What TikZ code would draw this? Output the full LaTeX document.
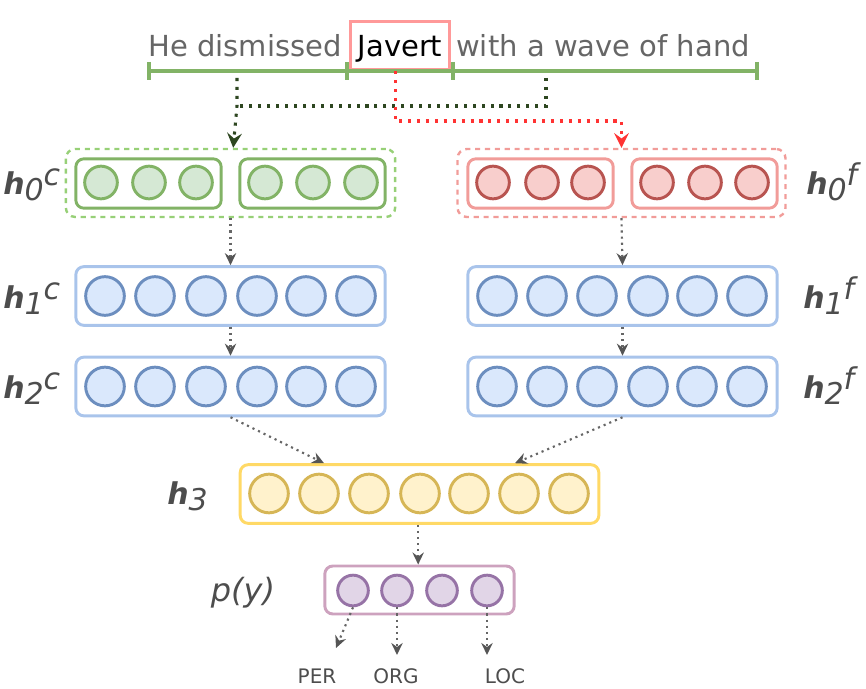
\documentclass[tikz,border=0pt]{standalone}
\usepackage{fontspec}
\setmainfont{DejaVu Sans}
\usetikzlibrary{arrows.meta}
\definecolor{gfill}{HTML}{D5E8D4}\definecolor{gline}{HTML}{82B366}\definecolor{gdash}{HTML}{97D077}
\definecolor{rfill}{HTML}{F8CECC}\definecolor{rline}{HTML}{B85450}\definecolor{rbox}{HTML}{F19C99}
\definecolor{bfill}{HTML}{DAE8FC}\definecolor{bline}{HTML}{6C8EBF}\definecolor{bbox}{HTML}{A9C4EB}
\definecolor{yfill}{HTML}{FFF2CC}\definecolor{yline}{HTML}{D6B656}\definecolor{ybox}{HTML}{FFD966}
\definecolor{pfill}{HTML}{E1D5E7}\definecolor{pline}{HTML}{9673A6}\definecolor{pbox}{HTML}{CDA2BE}
\definecolor{javbox}{HTML}{FF9999}\definecolor{dgreen}{HTML}{2D4620}\definecolor{redarr}{HTML}{FF3333}
\definecolor{dotgray}{HTML}{666666}\definecolor{arrgray}{HTML}{555555}\definecolor{labgray}{HTML}{4D4D4D}
\definecolor{sentgray}{HTML}{666666}
\newcommand{\hlab}[2]{\textbf{\textit{h}}\raisebox{-0.23em}{\textit{#1}}\raisebox{0.28em}{\textit{#2}}}
\begin{document}
\begin{tikzpicture}[x=0.75pt,y=-0.75pt,
  box/.style={draw, rounded corners=6pt, line width=2.2pt, inner sep=0pt},
  dbox/.style={draw, rounded corners=7pt, line width=1.8pt, dash pattern=on 3.8pt off 3.6pt, inner sep=0pt, minimum width=#1, minimum height=51pt},
  circ/.style={circle, draw, line width=2.2pt, inner sep=0pt},
  gc/.style={circ, fill=gfill, draw=gline, minimum size=24.5pt},
  rc/.style={circ, fill=rfill, draw=rline, minimum size=24.5pt},
  bc/.style={circ, fill=bfill, draw=bline, minimum size=29pt},
  yc/.style={circ, fill=yfill, draw=yline, minimum size=29pt},
  pc/.style={circ, fill=pfill, draw=pline, minimum size=23pt},
  lab/.style={text=labgray, font=\fontsize{22.5}{27}\selectfont, inner sep=0pt},
  sent/.style={text=sentgray, font=\fontsize{21.75}{26}\selectfont, inner sep=0pt},
  cls/.style={text=labgray, font=\fontsize{15}{18}\selectfont, inner sep=0pt},
  garr/.style={draw=dotgray, line width=1.6pt, dash pattern=on 1.6pt off 3pt,
    -{Stealth[length=9pt,width=8.5pt,inset=3pt,color=arrgray]}},
  toparr/.style={draw=#1, line width=2.3pt, dash pattern=on 2.3pt off 4.4pt},
]
\useasboundingbox (0,0) rectangle (866,688);

% sentence
\node[draw=javbox, line width=2.4pt, minimum width=74pt, minimum height=36pt, inner sep=0pt] (jav) at (400,45.5) {};
\node[sent, anchor=base, text=black] (javt) at (400,57) {Javert};
\node[sent, anchor=base east] (s1) at (342,57) {He dismissed};
\node[sent, anchor=base west] (s2) at (456,57) {with a wave of hand};
\draw[gline, line width=2.6pt] (149,71) -- (757,71);
\foreach \x in {149,347,453,757} \draw[gline, line width=2.6pt] (\x,62) -- (\x,80);

% h0c
\node[dbox=247pt, draw=gdash] (h0c) at (230.5,183) {};
\node[box, draw=gline, minimum width=109pt, minimum height=37pt] (h0cL) at (148.5,183.5) {};
\node[box, draw=gline, minimum width=109pt, minimum height=37pt] (h0cR) at (312.5,183.5) {};
\foreach \i/\x in {1/101,2/149,3/196,4/265,5/313,6/361} \node[gc] (g\i) at (\x,182.5) {};
% h0f
\node[dbox=246pt, draw=rbox] (h0f) at (621.5,183) {};
\node[box, draw=rbox, minimum width=109pt, minimum height=37pt] (h0fL) at (540.5,183.5) {};
\node[box, draw=rbox, minimum width=109pt, minimum height=37pt] (h0fR) at (704.5,183.5) {};
\foreach \i/\x in {1/493,2/542,3/588,4/657,5/705,6/752} \node[rc] (r\i) at (\x,182.5) {};

% h1, h2
\node[box, draw=bbox, minimum width=232pt, minimum height=44pt] (h1c) at (230.5,296) {};
\node[box, draw=bbox, minimum width=232pt, minimum height=44pt] (h2c) at (230.5,386.5) {};
\node[box, draw=bbox, minimum width=232pt, minimum height=44pt] (h1f) at (622.5,296) {};
\node[box, draw=bbox, minimum width=232pt, minimum height=44pt] (h2f) at (622.5,386.5) {};
\foreach \i/\x in {1/105,2/155,3/206,4/257,5/306,6/356} {
  \node[bc] (a\i) at (\x,296) {};
  \node[bc] (b\i) at (\x,386.5) {};
}
\foreach \i/\x in {1/497,2/547,3/597,4/648,5/697,6/747} {
  \node[bc] (c\i) at (\x,296) {};
  \node[bc] (d\i) at (\x,386.5) {};
}

% h3
\node[box, draw=ybox, minimum width=269pt, minimum height=44pt] (h3) at (419.5,494) {};
\foreach \i/\x in {1/269,2/319,3/369,4/420,5/469,6/519,7/569} \node[yc] (y\i) at (\x,493.5) {};

% p(y)
\node[box, draw=pbox, minimum width=142pt, minimum height=36pt] (py) at (419.5,590) {};
\foreach \i/\x in {1/353,2/397,3/442,4/487} \node[pc] (p\i) at (\x,590.5) {};

% labels
\node[lab, anchor=base west] (l0c) at (3,194) {\hlab{0}{c}};
\node[lab, anchor=base west] (l1c) at (3,308) {\hlab{1}{c}};
\node[lab, anchor=base west] (l2c) at (3,398) {\hlab{2}{c}};
\node[lab, anchor=base west] (l0f) at (806,194) {\hlab{0}{f}};
\node[lab, anchor=base west] (l1f) at (803,308) {\hlab{1}{f}};
\node[lab, anchor=base west] (l2f) at (803,398) {\hlab{2}{f}};
\node[lab, anchor=base west] (l3) at (167,504) {\hlab{3}{}};
\node[lab, anchor=center, font=\fontsize{24}{28}\selectfont] (lpy) at (243,593) {\textit{p(y)}};

\node[cls, anchor=base] (per) at (317,683) {PER};
\node[cls, anchor=base] (org) at (396,683) {ORG};
\node[cls, anchor=base] (loc) at (505,683) {LOC};

% top connectors
\coordinate (dL) at (237,78); \coordinate (jL) at (237,106);
\coordinate (dR) at (546,78); \coordinate (jR) at (546,106);
\coordinate (rj) at (621.5,121);
\draw[toparr=dgreen] (dR) -- (jR) -- (jL);
\draw[toparr=dgreen, -{Stealth[length=11pt,width=11pt,inset=4pt,color=dgreen]}] (dL) -- (jL) -- ([xshift=2pt]h0c.north);
\draw[toparr=redarr, -{Stealth[length=11pt,width=11pt,inset=4pt,color=redarr]}] ([xshift=-3.5pt]jav.south) |- (rj) -- (h0f.north);

% gray connectors
\draw[garr] (h0c.south) -- (h1c.north);
\draw[garr] (h1c.south) -- (h2c.north);
\draw[garr] (h0f.south) -- (h1f.north);
\draw[garr] (h1f.south) -- (h2f.north);
\draw[garr] (h2c.south) -- ([xshift=64pt]h3.north west);
\draw[garr] (h2f.south) -- ([xshift=-64pt]h3.north east);
\draw[garr] ([xshift=-1pt]h3.south) -- ([xshift=-1pt]py.north);
\coordinate (perT) at (336,648);
\coordinate (orgT) at (397,655);
\coordinate (locT) at (487,655);
\draw[garr] (p1.south) -- (perT);
\draw[garr] (p2.south) -- (orgT);
\draw[garr] (p4.south) -- (locT);
\end{tikzpicture}
\end{document}
